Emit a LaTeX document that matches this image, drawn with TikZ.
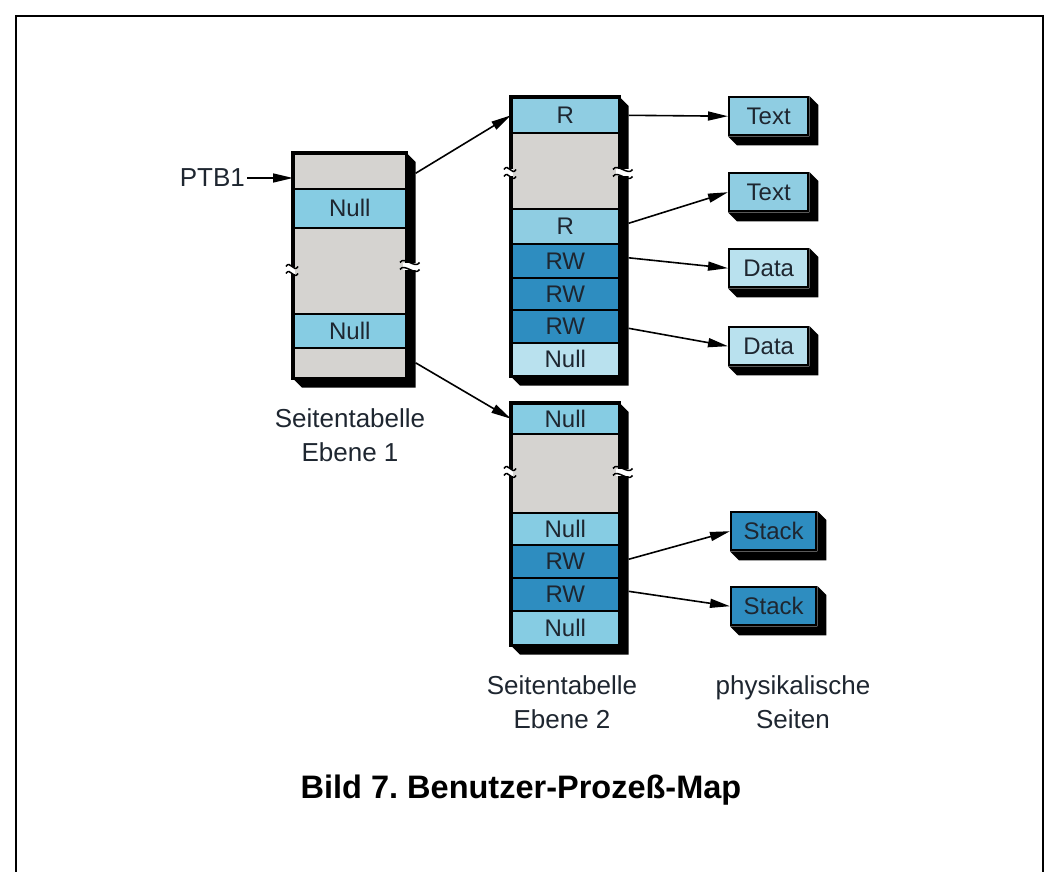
\documentclass[tikz,border=0pt]{standalone}
\usepackage{fontspec}
\setmainfont{Liberation Sans}
\usepackage{xcolor}
\usetikzlibrary{positioning,calc,arrows.meta}

\definecolor{grau}{HTML}{D5D3D0}
\definecolor{nullblau}{HTML}{86CCE3}
\definecolor{rblau}{HTML}{8FCDE2}
\definecolor{hellblau}{HTML}{B9E1EE}
\definecolor{rwblau}{HTML}{2E8DC0}
\definecolor{schrift}{HTML}{1E2630}

% Schatten rechts unten
\newcommand{\schatten}[2]{\fill (#1.north east) -- ++(9,9) -- ($(#2.south east)+(9,9)$) -- ($(#2.south west)+(9,9)$) -- (#2.south west) -- (#2.south east) -- cycle;}
% Unterbrechung
\newcommand{\bruch}[3]{%
  \fill[white] (#1,#2-3.5) rectangle ++(#3,7);
  \draw[line width=1.5pt] (#1-3,#2-3.5) .. controls +(4,-7) and +(-4,7) .. (#1+#3+3,#2-3.5);
  \draw[line width=1.5pt] (#1-3,#2+3.5) .. controls +(4,-7) and +(-4,7) .. (#1+#3+3,#2+3.5);}

\begin{document}
\begin{tikzpicture}[x=1pt, y=-1pt,
  zeile/.style={draw, line width=1.6pt, fill=#1, inner sep=0pt, anchor=north west, font=\fontsize{24}{24}\selectfont, text=schrift},
  seite/.style={draw, line width=2.4pt, fill=#1, minimum height=38, inner sep=0pt, anchor=north west, font=\fontsize{24}{24}\selectfont, text=schrift},
  rand/.style={line width=3.2pt},
  pfeil/.style={line width=1.6pt, -{Triangle[length=20pt,width=9pt]}},
  beschriftung/.style={align=center, inner sep=2pt, font=\fontsize{26}{34}\selectfont, text=schrift}]

    \useasboundingbox (0,0) rectangle (1053,872);
    % Rahmen
    \draw[line width=2pt] (16,880) -- (16,16) -- (1043,16) -- (1043,880);

    % Seitentabelle Ebene 1
    \foreach \n/\oben/\hoehe/\farbe/\txt in {a/153/35/grau/, b/188/39/nullblau/Null, c/227/86/grau/, d/313/34/nullblau/Null, e/347/30/grau/}
        \node[zeile=\farbe, minimum width=112, minimum height=\hoehe] (e1\n) at (293,\oben) {\txt};
    \draw[rand] (e1a.north west) rectangle (e1e.south east);
    \schatten{e1a}{e1e}
    \bruch{289}{270}{6}
    \bruch{403}{266}{13.5}

    % Seitentabelle Ebene 2, oben
    \foreach \n/\oben/\hoehe/\farbe/\txt in {a/97/35/rblau/R, b/132/76/grau/, c/208/35/rblau/R, d/243/34/rwblau/RW, e/277/32/rwblau/RW, f/309/33/rwblau/RW, g/342/33/hellblau/Null}
        \node[zeile=\farbe, minimum width=107, minimum height=\hoehe] (e2\n) at (511,\oben) {\txt};
    \draw[rand] (e2a.north west) rectangle (e2g.south east);
    \schatten{e2a}{e2g}
    \bruch{507}{173}{6}
    \bruch{616}{173}{13.5}

    % Seitentabelle Ebene 2, unten
    \foreach \n/\oben/\hoehe/\farbe/\txt in {a/403/30/nullblau/Null, b/433/79/grau/, c/512/32/nullblau/Null, d/544/33/rwblau/RW, e/577/33/rwblau/RW, f/610/34/nullblau/Null}
        \node[zeile=\farbe, minimum width=107, minimum height=\hoehe] (e3\n) at (511,\oben) {\txt};
    \draw[rand] (e3a.north west) rectangle (e3f.south east);
    \schatten{e3a}{e3f}
    \bruch{507}{472}{6}
    \bruch{616}{472}{13.5}

    % physikalische Seiten
    \node[seite=rblau, minimum width=79] (text1) at (728,96) {Text};
    \node[seite=rblau, minimum width=79] (text2) at (728,172) {Text};
    \node[seite=hellblau, minimum width=79] (data1) at (728,248) {Data};
    \node[seite=hellblau, minimum width=79] (data2) at (728,326) {Data};
    \node[seite=rwblau, minimum width=85] (stack1) at (730,511) {Stack};
    \node[seite=rwblau, minimum width=85] (stack2) at (730,586) {Stack};
    \foreach \n in {text1,text2,data1,data2,stack1,stack2}
        {\schatten{\n}{\n}}

    % Pfeile
    \node[beschriftung, anchor=east] (ptb) at (247,178) {PTB1};
    \draw[pfeil] (ptb.east) -- (ptb.east -| e1a.west);
    \draw[pfeil] ($(e1a.east)+(9,2)$) -- (e2a.west);
    \draw[pfeil] ($(e1e.east)+(9,0)$) -- (e3a.west);
    \draw[pfeil] ($(e2a.east)+(9,0)$) -- (text1.west);
    \draw[pfeil] ($(e2c.east)+(9,-3)$) -- (text2.west);
    \draw[pfeil] ($(e2d.east)+(9,-3)$) -- (data1.west);
    \draw[pfeil] ($(e2f.east)+(9,2)$) -- (data2.west);
    \draw[pfeil] ($(e3d.east)+(9,-2)$) -- (stack1.west);
    \draw[pfeil] ($(e3e.east)+(9,-3)$) -- (stack2.west);

    % Beschriftung
    \node[beschriftung] (ebene1) at (350,435) {Seitentabelle\\Ebene 1};
    \node[beschriftung] (ebene2) at (562,702) {Seitentabelle\\Ebene 2};
    \node[beschriftung] (seiten) at (793,702) {physikalische\\Seiten};
    \node[font=\bfseries\fontsize{32.5}{34}\selectfont] (titel) at (521,790) {Bild 7.\ Benutzer-Prozeß-Map};
\end{tikzpicture}
\end{document}
